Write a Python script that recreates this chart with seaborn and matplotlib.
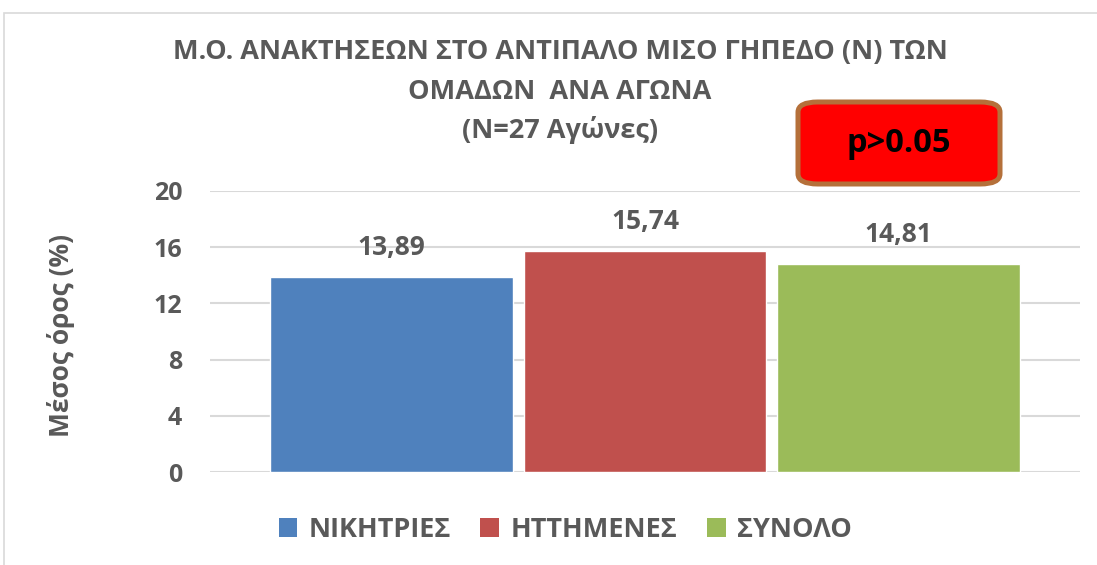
import matplotlib
matplotlib.use("Agg")
import matplotlib.pyplot as plt
import seaborn as sns
import pandas as pd
from matplotlib.patches import FancyBboxPatch, Rectangle, Patch

categories = ["ΝΙΚΗΤΡΙΕΣ", "ΗΤΤΗΜΕΝΕΣ", "ΣΥΝΟΛΟ"]
values = [13.89, 15.74, 14.81]
value_labels = ["13,89", "15,74", "14,81"]
colors = ["#4F81BD", "#C0504D", "#9BBB59"]
yticks = [0, 4, 8, 12, 16, 20]
title_lines = ["Μ.Ο. ΑΝΑΚΤΗΣΕΩΝ ΣΤΟ ΑΝΤΙΠΑΛΟ ΜΙΣΟ ΓΗΠΕΔΟ (Ν) ΤΩΝ",
               "ΟΜΑΔΩΝ  ΑΝΑ ΑΓΩΝΑ",
               "(Ν=27 Αγώνες)"]
ylabel = "Μέσος όρος (%)"
ptext = "p>0.05"

sns.set_theme(style="white")
plt.rcParams["font.family"] = ["Open Sans", "DejaVu Sans"]
TXT = "#595959"

df = pd.DataFrame({"cat": categories, "val": values})

fig = plt.figure(figsize=(10.97, 5.65), dpi=100)
ax = fig.add_axes([210/1097, 93/565, 870/1097, 281/565])

sns.barplot(data=df, x="cat", y="val", hue="cat", palette=colors, order=categories,
            hue_order=categories, width=0.957, saturation=1, legend=False, ax=ax, zorder=3)

ax.set_ylim(0, 20)
ax.set_xlim(-0.715, 2.715)
ax.set_yticks(yticks)
ax.set_yticklabels([str(t) for t in yticks], fontsize=18, fontweight="bold", color=TXT)
ax.set_xticks([])
ax.set_xlabel("")
ax.set_ylabel(ylabel, fontsize=19, fontweight="bold", color=TXT)
ax.yaxis.set_label_coords(-0.155, 0.4875)
ax.tick_params(axis="y", length=0, pad=20)
for s in ax.spines.values():
    s.set_visible(False)
ax.yaxis.grid(True, color="#D9D9D9", lw=1.5, zorder=0)
ax.set_axisbelow(True)

for i, (v, lab) in enumerate(zip(values, value_labels)):
    ax.annotate(lab, (i, v), xytext=(0, 21), textcoords="offset points", ha="center",
                va="center", fontsize=19, fontweight="bold", color=TXT)

for line, ypx in zip(title_lines, [52, 92, 130]):
    fig.text(560/1097, 1 - ypx/565, line, ha="center", va="center", fontsize=19.5,
             fontweight="bold", color=TXT)

# p-value box
box = FancyBboxPatch((798/1097, 1 - 184/565), 202/1097, 82/565,
                     boxstyle="round,pad=0,rounding_size=0.018", transform=fig.transFigure,
                     facecolor="#FF0000", edgecolor="#B5703A", lw=3.6, zorder=5)
fig.patches.append(box)
fig.text(899/1097, 1 - 143/565, ptext, ha="center", va="center", fontsize=23.5,
         fontweight="bold", color="black", zorder=6)

# chart border
fig.patches.append(Rectangle((4/1097, -0.1), 1.2, 1.1 - 13/565, transform=fig.transFigure,
                             fill=False, edgecolor="#D9D9D9", lw=1.2))

# legend
handles = [Patch(facecolor=c, edgecolor="none") for c in colors]
fig.legend(handles, categories, loc="center", bbox_to_anchor=(565/1097, 1 - 530/565), ncol=3,
           frameon=False, prop={"size": 19.5, "weight": "bold"}, labelcolor=TXT,
           handlelength=0.7, handleheight=0.7, handletextpad=0.4, columnspacing=1.1)

fig.savefig("out.png", dpi=100)
